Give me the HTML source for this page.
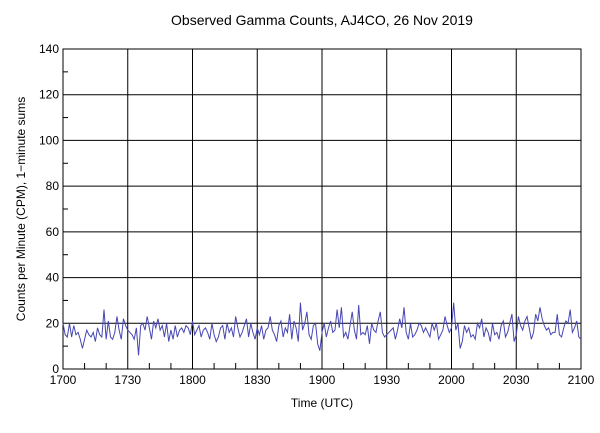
<!DOCTYPE html>
<html><head><meta charset="utf-8"><style>
body{margin:0;background:#fff;font-family:"Liberation Sans",sans-serif}
text{font-family:"Liberation Sans",sans-serif;font-size:12px;fill:#000}
</style></head><body>
<svg width="600" height="428" id="svg">
<text x="322" y="25" text-anchor="middle" font-size="14" style="font-size:14px">Observed Gamma Counts, AJ4CO, 26 Nov 2019</text>
<text x="322" y="407" text-anchor="middle">Time (UTC)</text>
<text transform="translate(25,209) rotate(-90)" text-anchor="middle">Counts per Minute (CPM), 1−minute sums</text>
<g id="grid"></g><g id="plot"></g>
</svg>
<script>
const xTicks=["1700","1730","1800","1830","1900","1930","2000","2030","2100"];
const yTicks=[0,20,40,60,80,100,120,140];
const counts=[
20,15,14,20,14,19,15,16,13,9,13,17,15,14,16,12,18,15,14,26,
13,21,14,13,16,23,17,13,22,19,17,16,15,13,18,6,19,20,17,23,
18,13,21,18,22,17,19,14,20,12,17,13,19,14,17,18,16,19,18,15,
21,15,17,19,14,17,18,16,13,20,15,12,14,18,19,13,20,16,18,14,
23,18,14,16,19,22,14,20,16,13,18,15,19,13,17,18,23,17,15,12,
19,21,14,18,16,24,13,21,18,12,29,17,20,25,15,13,19,20,11,8,
16,20,14,18,21,16,17,26,18,27,14,16,13,19,25,17,13,28,15,16,
15,19,11,20,17,16,21,25,16,14,15,16,17,18,13,17,22,18,27,16,
13,20,14,15,17,20,19,16,18,16,14,20,17,20,13,15,17,23,19,16,
18,29,17,20,9,12,19,16,18,14,15,13,20,18,22,14,18,16,12,20,
15,16,13,19,21,14,16,20,24,12,15,23,19,17,21,23,18,13,16,24,
21,27,22,19,17,18,15,16,16,24,15,14,18,21,20,26,16,18,21,14,13
];
const L=63,R=581,T=49,B=369;
const xs=i=>L+(R-L)*i/240, ys=v=>B-(B-T)*v/140;
const ns="http://www.w3.org/2000/svg",g=document.getElementById('grid'),p=document.getElementById('plot');
function mk(par,tag,a){const e=document.createElementNS(ns,tag);for(const k in a)e.setAttribute(k,a[k]);par.appendChild(e);return e;}
xTicks.forEach((t,i)=>{const x=L+(R-L)*i/(xTicks.length-1);
const ln=mk(g,'line',{x1:x,x2:x,y1:T,y2:B,stroke:'#000','stroke-width':1});


const tx=mk(g,'text',{x:x,y:B+15,'text-anchor':'middle'});tx.textContent=t;


if(i<xTicks.length-1)for(let k=1;k<3;k++){const mx=x+(R-L)/(xTicks.length-1)*k/3;mk(g,'line',{x1:mx,x2:mx,y1:B-6,y2:B,stroke:'#000'});}
});
yTicks.forEach((v,i)=>{const y=ys(v);
const ln=mk(g,'line',{x1:L,x2:R,y1:y,y2:y,stroke:'#000','stroke-width':1});


const tx=mk(g,'text',{x:L-4,y:y+4,'text-anchor':'end'});tx.textContent=v;


if(i<yTicks.length-1){const my=ys(v+10);mk(g,'line',{x1:L,x2:L+5,y1:my,y2:my,stroke:'#000'});}
});
mk(g,'rect',{x:L,y:T,width:R-L,height:B-T,fill:'none',stroke:'#000'});
const line=mk(p,'polyline',{points:counts.map((v,i)=>xs(i)+','+ys(v)).join(' '),fill:'none',stroke:'#4646b4','stroke-width':1});


</script>
</body></html>
